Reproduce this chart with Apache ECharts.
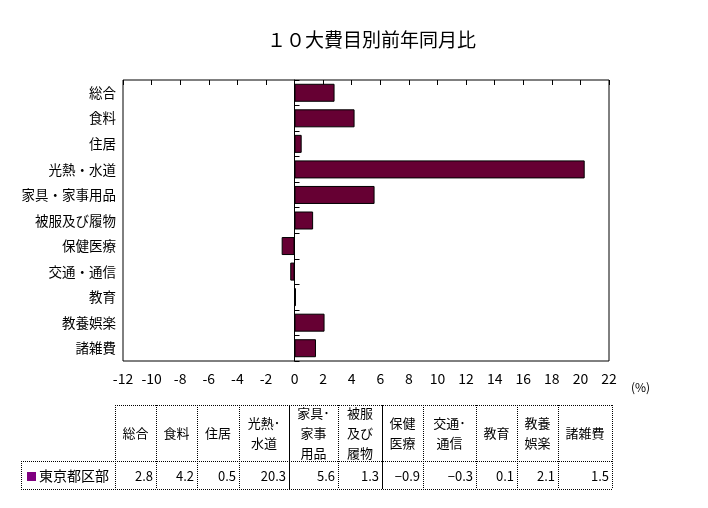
<!DOCTYPE html>
<html>
<head>
<meta charset="utf-8">
<script src="https://cdn.jsdelivr.net/npm/echarts@6/dist/echarts.min.js"></script>
<style>
html,body{margin:0;padding:0;background:#fff;}
#main{width:708px;height:508px;}
</style>
</head>
<body>
<div id="main"></div>
<script>
// 10大費目 (グラフ・表共通)
var categories = ['総合', '食料', '住居', '光熱・水道', '家具・家事用品', '被服及び履物', '保健医療', '交通・通信', '教育', '教養娯楽', '諸雑費'];
var values = [2.8, 4.2, 0.5, 20.3, 5.6, 1.3, -0.9, -0.3, 0.1, 2.1, 1.5];
var tableHeads = ['総合', '食料', '住居', '光熱･\n水道', '家具･\n家事\n用品', '被服\n及び\n履物', '保健\n医療', '交通･\n通信', '教育', '教養\n娯楽', '諸雑費'];
var seriesName = '東京都区部';

// 表の列の境界 (px)
var colEdges = [115, 156, 197, 239, 289, 338, 382, 423, 476, 517, 558, 612];
var tblLeft = 21, tblTop = 405, tblMid = 461, tblBottom = 489;

var font = '"Noto Sans CJK JP", sans-serif';
var dotted = {stroke: '#000', lineWidth: 1, lineDash: [1, 1]};

function hline(x1, x2, y, solid) {
	return {type: 'line', shape: {x1: x1, y1: y + 0.5, x2: x2, y2: y + 0.5}, style: solid ? {stroke: '#000', lineWidth: 1} : dotted, silent: true};
}
function vline(x, y1, y2, solid) {
	return {type: 'line', shape: {x1: x + 0.5, y1: y1, x2: x + 0.5, y2: y2}, style: solid ? {stroke: '#000', lineWidth: 1} : dotted, silent: true};
}

var graphics = [];
// 表の罫線
graphics.push(hline(colEdges[0], colEdges[colEdges.length - 1], tblTop));
graphics.push(hline(tblLeft, colEdges[colEdges.length - 1], tblMid));
graphics.push(hline(tblLeft, colEdges[colEdges.length - 1], tblBottom));
graphics.push(vline(tblLeft, tblMid, tblBottom));
colEdges.forEach(function (x, i) {
	graphics.push(vline(x, tblTop, tblBottom, i === 4 || i === 6));
});
// 見出しと値
tableHeads.forEach(function (h, i) {
	var cx = (colEdges[i] + colEdges[i + 1]) / 2;
	graphics.push({
		type: 'text', x: cx, y: (tblTop + tblMid) / 2, silent: true,
		style: {text: h, font: '13px ' + font, fill: '#000', align: 'center', verticalAlign: 'middle', lineHeight: 20}
	});
	var v = values[i];
	graphics.push({
		type: 'text', x: colEdges[i + 1] - 3, y: (tblMid + tblBottom) / 2 + 1, silent: true,
		style: {text: (v < 0 ? '−' : '') + Math.abs(v).toFixed(1), font: '13px ' + font, fill: '#000', align: 'right', verticalAlign: 'middle'}
	});
});
// 凡例
graphics.push({type: 'rect', shape: {x: 27, y: 472, width: 9, height: 9}, style: {fill: '#800080'}, silent: true});
graphics.push({
	type: 'text', x: 39, y: 476, silent: true,
	style: {text: seriesName, font: '14px ' + font, fill: '#000', align: 'left', verticalAlign: 'middle'}
});
// 単位
graphics.push({
	type: 'text', x: 631, y: 387, silent: true,
	style: {text: '(%)', font: '12px ' + font, fill: '#000', align: 'left', verticalAlign: 'middle'}
});

var option = {
	backgroundColor: '#fff',
	animation: false,
	title: {
		text: '１０大費目別前年同月比',
		left: 262,
		top: 25,
		textStyle: {fontFamily: font, fontSize: 19, fontWeight: 'normal', color: '#000'}
	},
	grid: {
		left: 123, right: 99, top: 80, bottom: 147,
		show: true, borderColor: '#000', borderWidth: 1, backgroundColor: '#fff'
	},
	xAxis: [
		{
			type: 'value', position: 'bottom', min: -12, max: 22, interval: 2,
			axisLine: {show: false}, axisTick: {show: false}, splitLine: {show: false},
			axisLabel: {color: '#000', fontSize: 14, fontFamily: font, margin: 11}
		},
		{
			type: 'value', position: 'top', min: -12, max: 22, interval: 2,
			axisLine: {show: false}, splitLine: {show: false}, axisLabel: {show: false},
			axisTick: {show: true, inside: true, length: 5, lineStyle: {color: '#000'}}
		}
	],
	yAxis: [
		{
			type: 'category', data: categories, inverse: true, position: 'left',
			axisLine: {show: false}, axisTick: {show: false},
			axisLabel: {color: '#000', fontSize: 13.5, fontFamily: font, margin: 7}
		},
		{
			type: 'category', data: categories, inverse: true, position: 'left',
			axisLine: {show: true, onZero: true, onZeroAxisIndex: 0, lineStyle: {color: '#000'}},
			axisTick: {show: true, inside: true, length: 5, lineStyle: {color: '#000'}},
			axisLabel: {show: false}
		}
	],
	series: [
		{
			name: seriesName,
			type: 'bar',
			xAxisIndex: 0,
			yAxisIndex: 0,
			data: values,
			barWidth: 18,
			itemStyle: {color: '#660033', borderColor: '#000', borderWidth: 1}
		}
	],
	graphic: graphics
};

var chart = echarts.init(document.getElementById('main'));
chart.setOption(option);
</script>
</body>
</html>
